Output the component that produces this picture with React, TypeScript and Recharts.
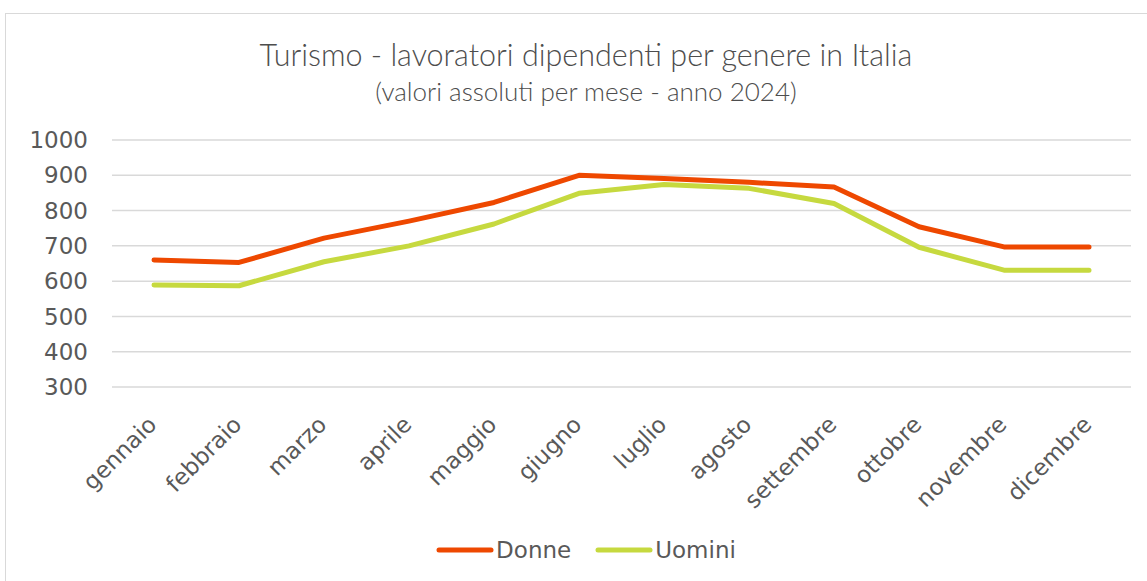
import React from "react";
import {
  LineChart,
  Line,
  XAxis,
  YAxis,
  CartesianGrid,
  Legend,
} from "recharts";

const mesi = [
  "gennaio",
  "febbraio",
  "marzo",
  "aprile",
  "maggio",
  "giugno",
  "luglio",
  "agosto",
  "settembre",
  "ottobre",
  "novembre",
  "dicembre",
];
const donne = [660, 653, 722, 770, 823, 900, 891, 880, 867, 754, 697, 697];
const uomini = [589, 587, 655, 700, 762, 849, 874, 863, 820, 696, 631, 631];
const yTicks = [300, 400, 500, 600, 700, 800, 900, 1000];

const data = mesi.map((m, i) => ({ mese: m, Donne: donne[i], Uomini: uomini[i] }));

const TEXT = "#595959";
const ROSSO = "#EE4800";
const VERDE = "#C6D93F";

function MonthTick(props: any) {
  const { x, y, payload } = props;
  const ax = x + 4;
  const ay = y + 31;
  return (
    <text
      x={ax}
      y={ay}
      transform={`rotate(-45, ${ax}, ${ay})`}
      textAnchor="end"
      fill={TEXT}
      fontSize={23}
      fontFamily="DejaVu Sans"
    >
      {payload.value}
    </text>
  );
}

function LegendBox() {
  const items = [
    { name: "Donne", color: ROSSO },
    { name: "Uomini", color: VERDE },
  ];
  return (
    <div style={{ display: "flex", justifyContent: "center", gap: 24 }}>
      {items.map((it) => (
        <div key={it.name} style={{ display: "flex", alignItems: "center" }}>
          <svg width={58} height={10}>
            <line x1={3} y1={5} x2={55} y2={5} stroke={it.color} strokeWidth={5} strokeLinecap="round" />
          </svg>
          <span style={{ fontFamily: "DejaVu Sans", fontSize: 23, color: TEXT, marginLeft: 2 }}>
            {it.name}
          </span>
        </div>
      ))}
    </div>
  );
}

export default function App() {
  return (
    <div style={{ position: "absolute", left: 0, top: 0, width: 1147, height: 581, background: "#fff" }}>
      <div
        style={{
          position: "absolute",
          left: 5,
          top: 13,
          width: 1160,
          height: 600,
          border: "1px solid #D9D9D9",
          boxSizing: "border-box",
        }}
      />
      <div
        style={{
          position: "absolute",
          left: 0,
          width: 1172,
          top: 36,
          textAlign: "center",
          fontFamily: "Lato",
          fontWeight: 300,
          fontSize: 30.5,
          color: "#4d4d4d",
          lineHeight: "36px",
        }}
      >
        Turismo - lavoratori dipendenti per genere in Italia
      </div>
      <div
        style={{
          position: "absolute",
          left: 0,
          width: 1172,
          top: 76,
          textAlign: "center",
          fontFamily: "Lato",
          fontWeight: 300,
          fontSize: 26,
          color: "#4d4d4d",
          lineHeight: "30px",
        }}
      >
        (valori assoluti per mese - anno 2024)
      </div>
      <div style={{ position: "absolute", left: 0, top: 0 }}>
        <LineChart
          width={1147}
          height={581}
          data={data}
          margin={{ top: 140, right: 16, left: 0, bottom: 0 }}
        >
          <CartesianGrid vertical={false} stroke="#D9D9D9" strokeWidth={1.5} />
          <XAxis
            dataKey="mese"
            axisLine={false}
            tickLine={false}
            interval={0}
            height={194}
            padding={{ left: 42, right: 42 }}
            tick={<MonthTick />}
          />
          <YAxis
            domain={[300, 1000]}
            ticks={yTicks}
            width={112}
            axisLine={false}
            tickLine={false}
            tickMargin={18}
            tick={{ fill: TEXT, fontSize: 23, fontFamily: "DejaVu Sans" }}
          />
          <Legend
            verticalAlign="middle"
            content={<LegendBox />}
            wrapperStyle={{ top: 537, left: 0, width: 1172 }}
          />
          <Line
            type="linear"
            dataKey="Donne"
            stroke={ROSSO}
            strokeWidth={5}
            strokeLinecap="round"
            strokeLinejoin="round"
            dot={false}
            activeDot={false}
            isAnimationActive={false}
          />
          <Line
            type="linear"
            dataKey="Uomini"
            stroke={VERDE}
            strokeWidth={5}
            strokeLinecap="round"
            strokeLinejoin="round"
            dot={false}
            activeDot={false}
            isAnimationActive={false}
          />
        </LineChart>
      </div>
    </div>
  );
}
